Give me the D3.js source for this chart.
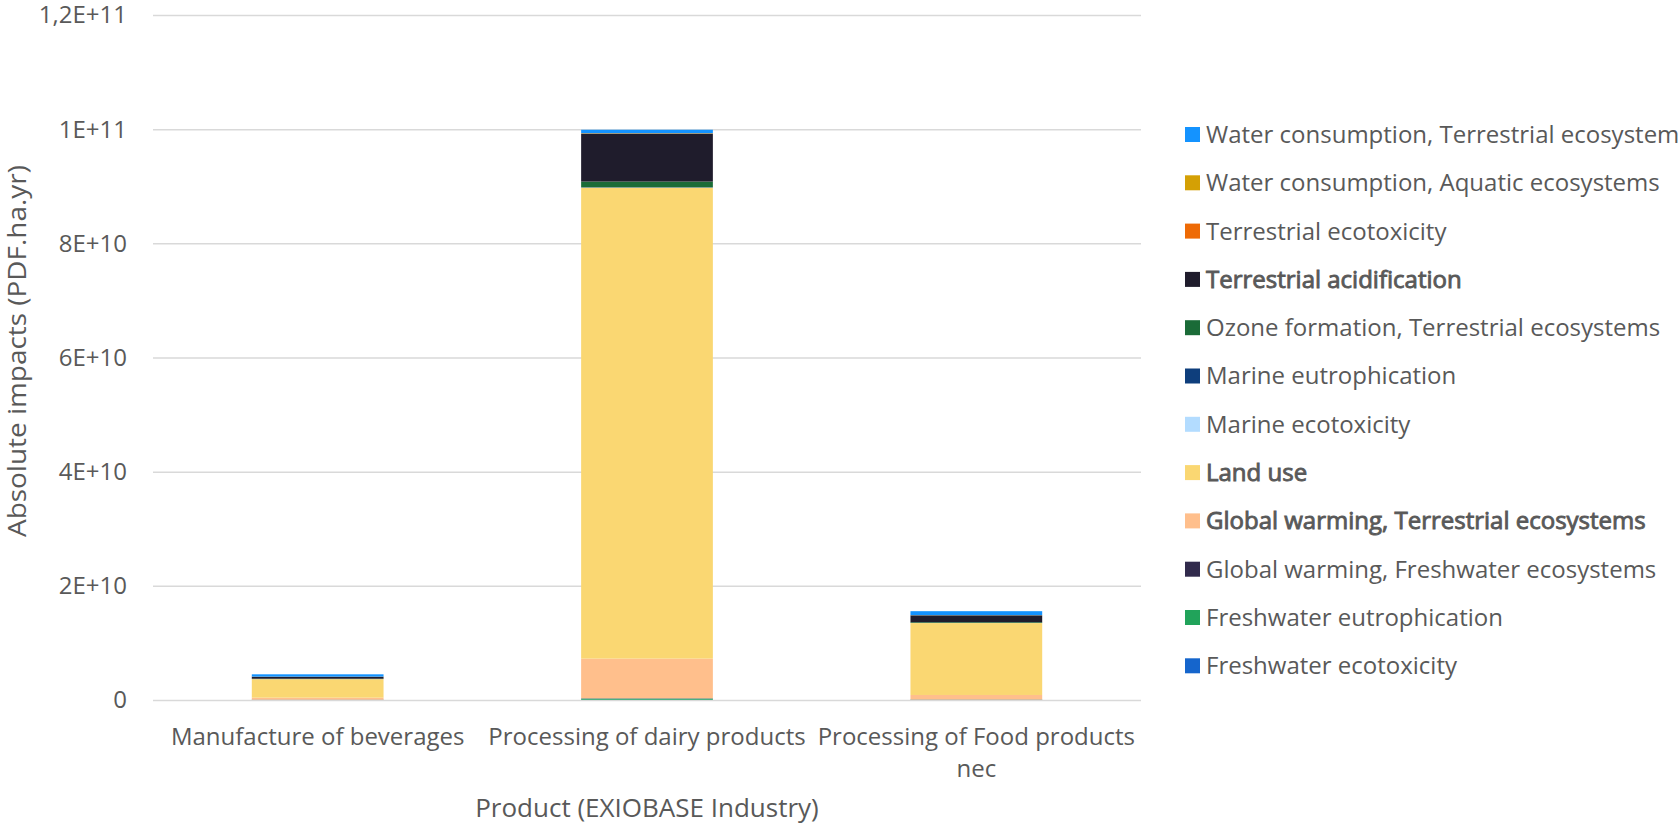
<!DOCTYPE html>
<html>
<head>
<meta charset="utf-8">
<script src="https://cdn.jsdelivr.net/npm/d3@7"></script>
<style>
  body { margin: 0; background: #fff; }
  text { font-family: "Open Sans", sans-serif; fill: #595959; }
</style>
</head>
<body>
<script>
var width = 1678,
    height = 825;

// categories (x axis)
var products = ['Manufacture of beverages', 'Processing of dairy products', 'Processing of Food products nec'];

// impact categories, bottom of the stack first
var impacts = [
  'Freshwater ecotoxicity',
  'Freshwater eutrophication',
  'Global warming, Freshwater ecosystems',
  'Global warming, Terrestrial ecosystems',
  'Land use',
  'Marine ecotoxicity',
  'Marine eutrophication',
  'Ozone formation, Terrestrial ecosystems',
  'Terrestrial acidification',
  'Terrestrial ecotoxicity',
  'Water consumption, Aquatic ecosystems',
  'Water consumption, Terrestrial ecosystem'
];

var colors = ['#1565cc', '#21a35a', '#312a4c', '#ffbf8c', '#fad772', '#b3dcff',
              '#0e3e7c', '#1a6b37', '#1f1c2c', '#ee6a05', '#d4a005', '#1493ff'];

var boldItems = ['Terrestrial acidification', 'Land use', 'Global warming, Terrestrial ecosystems'];

// values in PDF.ha.yr, one array per impact (same order as products)
var freshEcotox   = [0.02e9, 0.05e9, 0.02e9];
var freshEutro    = [0.02e9, 0.2e9, 0.03e9];
var gwFresh       = [0.02e9, 0.05e9, 0.03e9];
var gwTerr        = [0.35e9, 6.95e9, 0.8e9];
var landUse       = [3.25e9, 82.5e9, 12.6e9];
var marineEcotox  = [0.01e9, 0.02e9, 0.01e9];
var marineEutro   = [0.01e9, 0.05e9, 0.02e9];
var ozone         = [0.05e9, 1.0e9, 0.12e9];
var terrAcid      = [0.35e9, 8.4e9, 1.2e9];
var terrEcotox    = [0.01e9, 0.03e9, 0.01e9];
var waterAquatic  = [0.01e9, 0.05e9, 0.02e9];
var waterTerr     = [0.4e9, 0.6e9, 0.7e9];

var series = [freshEcotox, freshEutro, gwFresh, gwTerr, landUse, marineEcotox,
              marineEutro, ozone, terrAcid, terrEcotox, waterAquatic, waterTerr];

var yTicks = [0, 2e10, 4e10, 6e10, 8e10, 1e11, 1.2e11];
var yTickLabels = ['0', '2E+10', '4E+10', '6E+10', '8E+10', '1E+11', '1,2E+11'];

var margin = {left: 153, right: 1141, top: 15, bottom: 700};

var svg = d3.select('body').append('svg')
    .attr('width', width)
    .attr('height', height);

var x = d3.scaleBand().domain(products).range([margin.left, margin.right]).paddingInner(0.6).paddingOuter(0.3);
var y = d3.scaleLinear().domain([0, 1.2e11]).range([margin.bottom, margin.top]);

// gridlines
svg.append('g').selectAll('line').data(yTicks).enter().append('line')
    .attr('x1', margin.left).attr('x2', margin.right)
    .attr('y1', function(d){ return y(d) + 0.5; })
    .attr('y2', function(d){ return y(d) + 0.5; })
    .style('stroke', '#d9d9d9').style('stroke-width', 1.5);

// y tick labels
svg.append('g').selectAll('text').data(yTicks).enter().append('text')
    .attr('x', 127)
    .attr('y', function(d){ return y(d); })
    .attr('dy', '0.35em')
    .attr('text-anchor', 'end')
    .style('font-size', '24px')
    .text(function(d, i){ return yTickLabels[i]; });

// stacked bars
var table = products.map(function(p, i){
  var row = {product: p};
  impacts.forEach(function(k, j){ row[k] = series[j][i]; });
  return row;
});

var stacked = d3.stack().keys(impacts)(table);

svg.append('g').selectAll('g').data(stacked).enter().append('g')
    .style('fill', function(d, i){ return colors[i]; })
  .selectAll('rect').data(function(d){ return d; }).enter().append('rect')
    .attr('x', function(d){ return x(d.data.product); })
    .attr('width', x.bandwidth())
    .attr('y', function(d){ return y(d[1]); })
    .attr('height', function(d){ return y(d[0]) - y(d[1]); });

// x labels
var xl = svg.append('g').selectAll('text').data(products).enter().append('text')
    .attr('text-anchor', 'middle')
    .attr('x', function(d){ return x(d) + x.bandwidth() / 2; })
    .attr('y', 745)
    .style('font-size', '24px');

xl.each(function(d){
  var t = d3.select(this);
  if (d === 'Processing of Food products nec') {
    t.append('tspan').attr('x', x(d) + x.bandwidth() / 2).text('Processing of Food products');
    t.append('tspan').attr('x', x(d) + x.bandwidth() / 2).attr('dy', 32).text('nec');
  } else {
    t.text(d);
  }
});

// axis titles
svg.append('text')
    .attr('x', (margin.left + margin.right) / 2)
    .attr('y', 817)
    .attr('text-anchor', 'middle')
    .style('font-size', '26px')
    .text('Product (EXIOBASE Industry)');

svg.append('text')
    .attr('transform', 'translate(26,351) rotate(-90)')
    .attr('text-anchor', 'middle')
    .attr('textLength', 372)
    .attr('lengthAdjust', 'spacingAndGlyphs')
    .style('font-size', '25px')
    .text('Absolute impacts (PDF.ha.yr)');

// legend, top of stack first
var legendItems = impacts.slice().reverse();
var legend = svg.append('g').selectAll('g').data(legendItems).enter().append('g')
    .attr('transform', function(d, i){ return 'translate(1185,' + (134.5 + i * 48.3) + ')'; });

legend.append('rect')
    .attr('y', -7.5).attr('width', 15).attr('height', 15)
    .style('fill', function(d){ return colors[impacts.indexOf(d)]; });

legend.append('text')
    .attr('x', 21).attr('dy', '0.35em')
    .style('font-size', '24px')
    .style('stroke', function(d){ return boldItems.indexOf(d) >= 0 ? '#595959' : 'none'; })
    .style('stroke-width', 0.9)
    .text(function(d){ return d; });
</script>
</body>
</html>
